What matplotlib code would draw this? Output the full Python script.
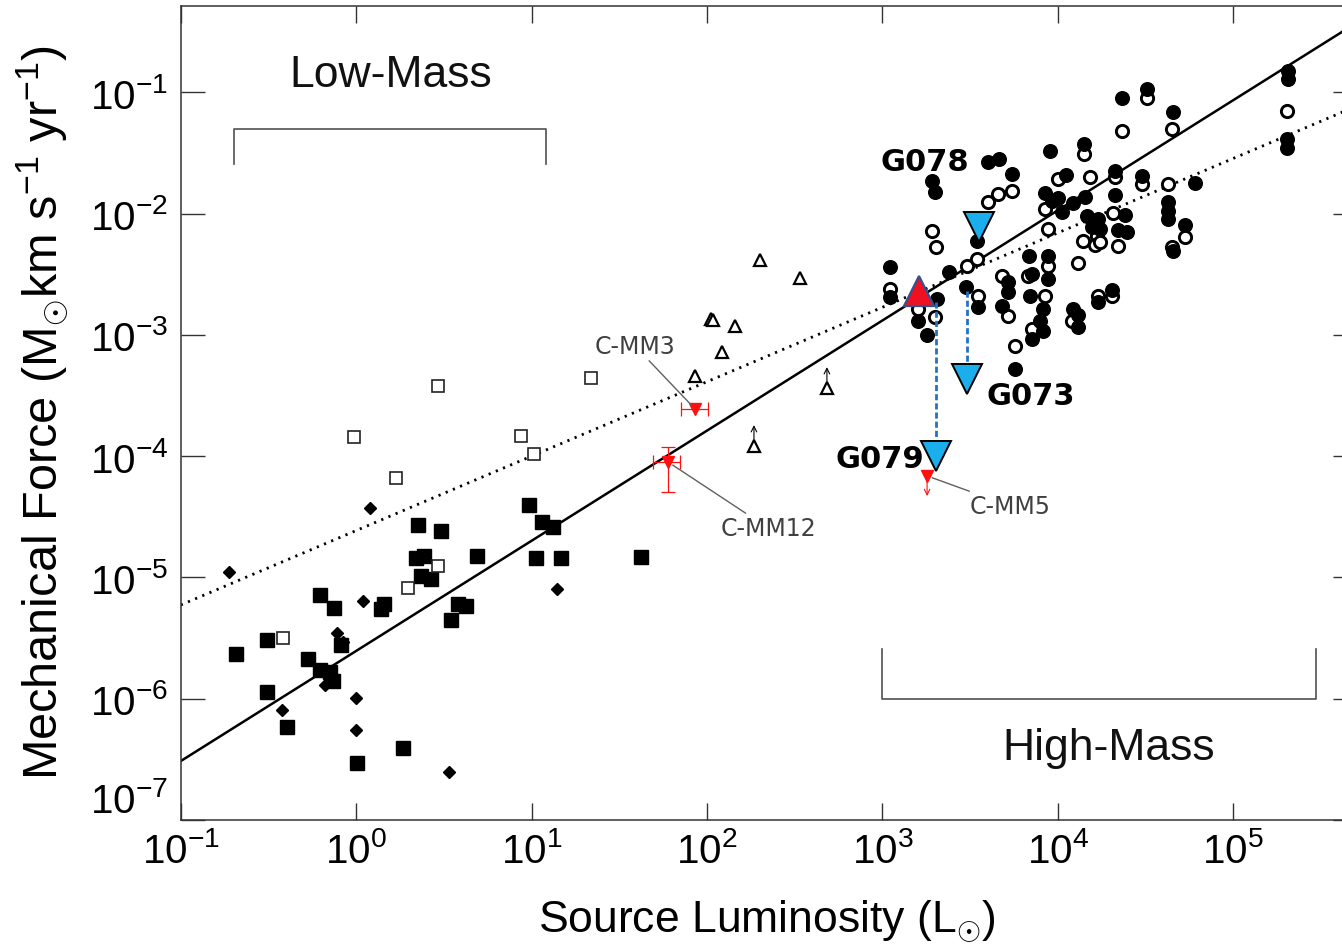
import numpy as np
import matplotlib
matplotlib.use("Agg")
import matplotlib.pyplot as plt
from matplotlib.ticker import NullLocator, FixedLocator

plt.rcParams['font.family'] = ['Liberation Sans', 'DejaVu Sans']
plt.rcParams['mathtext.fontset'] = 'custom'
plt.rcParams['mathtext.rm'] = 'Liberation Sans'
plt.rcParams['mathtext.it'] = 'Liberation Sans:italic'
plt.rcParams['mathtext.bf'] = 'Liberation Sans:bold'

# ------------------------------------------------------------------
# Data: log10 of source luminosity (Lsun) and log10 of mechanical
# force (Msun km/s/yr)
# ------------------------------------------------------------------
# low-mass sources, filled squares
lm_sq_logL = [-0.685, -0.508, -0.508, -0.394, -0.274, -0.206, -0.126, -0.206,
              -0.149, -0.132, -0.086, 0.005, 0.267, 0.353, 0.484, 0.341,
              0.387, 0.370, 0.427, 0.142, 0.159, 0.689, 0.541, 0.581,
              0.626, 0.985, 1.060, 1.123, 1.026, 1.168, 1.624]
lm_sq_logF = [-5.631, -5.516, -5.945, -6.233, -5.672, -5.144, -5.252, -5.763,
              -5.779, -5.854, -5.557, -6.531, -6.407, -4.567, -4.616, -4.839,
              -4.822, -4.987, -5.012, -5.261, -5.219, -4.822, -5.351, -5.219,
              -5.236, -4.403, -4.542, -4.583, -4.839, -4.839, -4.831]

# low-mass sources, open squares
lm_osq_logL = [-0.417, 0.467, 0.296, 0.227, -0.012, 0.467, 0.940, 1.014, 1.339]
lm_osq_logF = [-5.500, -4.905, -5.087, -4.180, -3.842, -3.422, -3.834, -3.982, -3.356]

# low-mass sources, filled diamonds
lm_dia_logL = [-0.725, 0.079, 0.039, -0.109, -0.075, -0.177, -0.422, -0.001,
               -0.001, 0.530, 1.145]
lm_dia_logF = [-4.954, -4.427, -5.194, -5.459, -5.532, -5.887, -6.093, -5.994,
               -6.258, -6.605, -5.095]

# intermediate sources, open triangles (detections)
im_tri_logL = [2.302, 2.530, 2.023, 2.034, 2.160, 2.086, 1.932]
im_tri_logF = [-2.383, -2.531, -2.869, -2.877, -2.927, -3.141, -3.339]
# open triangles that are lower limits
im_lim_logL = [2.684, 2.268]
im_lim_logF = [-3.438, -3.916]

# high-mass sources, filled circles
hm_fill_logL = [3.956, 4.150, 3.602, 3.665, 3.739, 3.283, 3.300, 4.047, 3.928,
                4.002, 4.087, 4.156, 3.968, 4.025, 4.327, 4.327, 4.481, 4.630,
                4.630, 4.630, 4.384, 4.167, 4.230, 4.196, 4.344, 4.396, 4.658,
                3.836, 3.945, 3.853, 3.945, 3.716, 3.716, 3.842, 3.916, 3.682,
                3.899, 3.916, 3.853, 4.310, 4.230, 4.087, 4.116, 4.116, 3.756,
                4.367, 4.510, 4.658, 4.784, 4.727, 5.313, 5.313, 5.308, 5.308,
                3.044, 3.044, 3.204, 3.255, 3.311, 3.380, 3.477, 3.545, 3.539,
                4.241]
hm_fill_logF = [-1.484, -1.426, -1.575, -1.550, -1.674, -1.731, -1.822, -1.682,
                -1.830, -1.872, -1.913, -1.863, -1.896, -1.987, -1.649, -1.847,
                -1.690, -1.905, -1.979, -2.045, -2.012, -2.020, -2.045, -2.111,
                -2.135, -2.152, -2.309, -2.350, -2.350, -2.498, -2.539, -2.564,
                -2.647, -2.680, -2.787, -2.762, -2.886, -2.968, -3.034, -2.630,
                -2.729, -2.787, -2.836, -2.935, -3.281, -1.047, -0.973, -1.162,
                -1.748, -2.094, -0.824, -0.890, -1.385, -1.459, -2.441, -2.688,
                -2.886, -3.001, -2.704, -2.482, -2.605, -2.770, -2.226, -2.127]

# high-mass sources, open circles
hm_open_logL = [4.150, 4.367, 4.652, 4.002, 4.184, 4.327, 4.481, 4.630, 3.928,
                4.316, 4.224, 4.144, 4.213, 4.344, 3.945, 4.116, 3.945, 3.831,
                3.682, 3.928, 3.716, 3.853, 3.756, 4.230, 4.310, 4.082, 4.510,
                4.727, 5.308, 3.602, 3.659, 3.739, 3.283, 3.306, 3.482, 3.539,
                3.044, 3.204, 3.300, 3.545, 4.241, 4.652]
hm_open_logF = [-1.509, -1.319, -1.303, -1.715, -1.698, -1.698, -1.756, -1.756,
                -1.962, -1.995, -2.185, -2.226, -2.259, -2.267, -2.127, -2.408,
                -2.433, -2.515, -2.515, -2.680, -2.844, -2.952, -3.092, -2.680,
                -2.680, -2.886, -1.047, -2.193, -1.154, -1.905, -1.839, -1.814,
                -2.144, -2.276, -2.433, -2.375, -2.622, -2.787, -2.853, -2.680,
                -2.234, -2.276]

# ALMA cores (red): C-MM3, C-MM12, C-MM5 (upper limit)
cmm_names = ['C-MM3', 'C-MM12', 'C-MM5']
cmm_logL = [1.932, 1.778, 3.255]
cmm_logF = [-3.611, -4.048, -4.163]
cmm_logL_lo = [1.852, 1.692]
cmm_logL_hi = [2.006, 1.846]
cmm12_logF_lo = -4.295
cmm12_logF_hi = -3.924

# G-sources: combined source (red, up) and individual upper limits (blue)
comb_logL = 3.210
comb_logF = -2.638
g_names = ['G079', 'G073', 'G078']
g_logL = [3.306, 3.482, 3.551]
g_logF = [-3.999, -3.364, -2.110]
g079_link_logF = -2.729

# power-law fits: log F = a + b log L
fit_all = (-5.606, 0.908)     # solid
fit_low = (-4.6135, 0.6135)   # dotted

# ------------------------------------------------------------------
P = lambda v: 10.0 ** np.asarray(v, dtype=float)

fig = plt.figure(figsize=(13.42, 9.53), dpi=100)
ax = fig.add_axes([0.1347, 0.1385, 0.8765, 0.8542])
ax.set_xscale('log')
ax.set_yscale('log')
ax.set_xlim(0.1, 5.086e5)
ax.set_ylim(1e-7, 0.5146)

# fit lines
lx = np.array([-1.0, 5.75])
ax.plot(P(lx), P(fit_all[0] + fit_all[1] * lx), color='black', lw=1.8, zorder=2)
ax.plot(P(lx), P(fit_low[0] + fit_low[1] * lx), color='black', lw=2.0,
        linestyle=(0, (0.8, 2.0)), zorder=2)

# low-mass points
ax.plot(P(lm_sq_logL), P(lm_sq_logF), ls='none', marker='s', ms=9.5,
        mfc='black', mec='black', zorder=3)
ax.plot(P(lm_osq_logL), P(lm_osq_logF), ls='none', marker='s', ms=9,
        mfc='white', mec='#222222', mew=1.2, zorder=3)
ax.plot(P(lm_dia_logL), P(lm_dia_logF), ls='none', marker='D', ms=6,
        mfc='black', mec='black', zorder=3)

# intermediate-mass triangles
ax.plot(P(im_tri_logL), P(im_tri_logF), ls='none', marker='^', ms=9,
        mfc='white', mec='black', mew=1.6, zorder=3)
ax.plot(P(im_lim_logL), P(im_lim_logF), ls='none', marker='^', ms=9,
        mfc='white', mec='black', mew=1.6, zorder=3)
for lxv, lyv in zip(im_lim_logL, im_lim_logF):
    ax.annotate('', xy=(10 ** lxv, 10 ** lyv), xytext=(0, 15),
                textcoords='offset points',
                arrowprops=dict(arrowstyle='<-', color='black', lw=0.8,
                                shrinkA=0, shrinkB=4.5,
                                mutation_scale=10))

# high-mass circles
ax.plot(P(hm_open_logL), P(hm_open_logF), ls='none', marker='o', ms=8.8,
        mfc='white', mec='black', mew=2.1, zorder=3)
ax.plot(P(hm_fill_logL), P(hm_fill_logF), ls='none', marker='o', ms=9.8,
        mfc='black', mec='black', zorder=3)

# red ALMA cores
red = '#ff1010'
xl = P(cmm_logL[:2])
xerr = [xl - P(cmm_logL_lo), P(cmm_logL_hi) - xl]
ax.errorbar(xl, P(cmm_logF[:2]), xerr=xerr, fmt='none', ecolor=red,
            elinewidth=0.9, capsize=4.7, capthick=0.9, zorder=4)
yc = 10 ** cmm_logF[1]
ax.errorbar([xl[1]], [yc], yerr=[[yc - 10 ** cmm12_logF_lo], [10 ** cmm12_logF_hi - yc]],
            fmt='none', ecolor=red, elinewidth=0.9, capsize=4.7, capthick=0.9, zorder=4)
ax.plot(P(cmm_logL), P(cmm_logF), ls='none', marker='v', ms=8, mfc=red, mec=red,
        zorder=5)
ax.annotate('', xy=(10 ** cmm_logL[2], 10 ** cmm_logF[2]), xytext=(0, -14.5),
            textcoords='offset points',
            arrowprops=dict(arrowstyle='<-', color=red, lw=0.8, shrinkA=0,
                            shrinkB=3.5, mutation_scale=10), zorder=5)

label_pos = {'C-MM3': (0.3862, 0.5823), 'C-MM12': (0.4993, 0.3587),
             'C-MM5': (0.7051, 0.3857)}
for name, lxv, lyv in zip(cmm_names, cmm_logL, cmm_logF):
    ax.annotate(name, xy=(10 ** lxv, 10 ** lyv), xytext=label_pos[name],
                textcoords='axes fraction', ha='center', va='center',
                fontsize=17, color='#404040', family='DejaVu Sans',
                arrowprops=dict(arrowstyle='-', color='#606060', lw=1.0,
                                shrinkA=0, shrinkB=4), zorder=5)

# dashed links from the combined source to the resolved upper limits
link_blue = '#2272c3'
ax.plot([10 ** g_logL[0]] * 2, [10 ** g079_link_logF, 10 ** g_logF[0]],
        color=link_blue, lw=2.0, dashes=(2.2, 1.1), zorder=6)
ax.plot([10 ** g_logL[1]] * 2, [10 ** comb_logF, 10 ** g_logF[1]],
        color=link_blue, lw=2.0, dashes=(2.2, 1.1), zorder=6)

# G sources
ax.plot([10 ** comb_logL], [10 ** comb_logF], ls='none', marker='^', ms=22,
        mfc='#ee1122', mec='#34508f', mew=1.6, zorder=7)
ax.plot(P(g_logL), P(g_logF), ls='none', marker='v', ms=21, mfc='#1aaeec',
        mec='black', mew=1.4, zorder=7)
g_label_pos = {'G079': (0.5946, 0.4435), 'G073': (0.7229, 0.5209),
               'G078': (0.6327, 0.8084)}
for name in g_names:
    ax.text(*g_label_pos[name], name, transform=ax.transAxes, ha='center',
            va='center', fontsize=22, fontweight='bold', family='DejaVu Sans',
            color='black', zorder=8)

# mass-regime brackets
bc = '#505050'
ax.plot([0.2, 0.2, 12.1, 12.1], [0.0256, 0.0498, 0.0498, 0.0256], color=bc, lw=1.2)
ax.plot([1000, 1000, 2.97e5, 2.97e5], [2.57e-6, 1e-6, 1e-6, 2.57e-6], color=bc, lw=1.2)
ax.text(0.1788, 0.9152, 'Low-Mass', transform=ax.transAxes, ha='center',
        va='center', fontsize=32, color='#111111')
ax.text(0.7892, 0.0890, 'High-Mass', transform=ax.transAxes, ha='center',
        va='center', fontsize=32, color='#111111')

# axes styling
ax.xaxis.set_major_locator(FixedLocator([1e-1, 1, 1e1, 1e2, 1e3, 1e4, 1e5]))
ax.yaxis.set_major_locator(FixedLocator([1e-7, 1e-6, 1e-5, 1e-4, 1e-3, 1e-2, 1e-1]))
ax.xaxis.set_minor_locator(NullLocator())
ax.yaxis.set_minor_locator(NullLocator())
for s in ax.spines.values():
    s.set_color('#333333')
    s.set_linewidth(1.1)
ax.tick_params(which='major', direction='in', top=True, right=True,
               labelsize=29, width=1.0, color='#333333', labelcolor='black')
ax.tick_params(axis='y', length=17.3, pad=9)
ax.tick_params(axis='x', length=12.5, pad=8)

# lift the lowest y label clear of the x labels at the corner
fig.canvas.draw()
ax.get_yticklabels()[0].set_verticalalignment('bottom')

fig.text(42 / 1342, 1 - 412 / 953,
         r'Mechanical Force (M$_{\odot}$km s$^{-1}$ yr$^{-1}$)',
         rotation=90, ha='center', va='center', fontsize=35)
fig.text(767 / 1342, 1 - 922 / 953, r'Source Luminosity (L$_{\odot}$)',
         ha='center', va='center', fontsize=32)

fig.savefig('out.png', dpi=100)
